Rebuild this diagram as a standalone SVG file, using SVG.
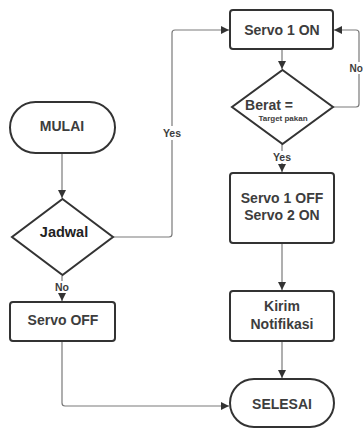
<svg xmlns="http://www.w3.org/2000/svg" width="363" height="432" viewBox="0 0 363 432">
<defs>
<style>
.box{fill:#fff;stroke:#333;stroke-width:2}
.t{font-family:"Liberation Sans",Arial,sans-serif;font-weight:bold;fill:#3d3d3d;text-anchor:middle}
.c{fill:none;stroke:#7a7a7a;stroke-width:1.2}
.lbl{font-family:"Liberation Sans",Arial,sans-serif;font-weight:bold;font-size:10.5px;fill:#3d3d3d;text-anchor:middle}
</style>
<marker id="ah" viewBox="0 0 10 10" refX="10" refY="5" markerWidth="8" markerHeight="8" markerUnits="userSpaceOnUse" orient="auto">
<path d="M0,0 L10,5 L0,10 z" fill="#333"/>
</marker>
</defs>
<rect width="363" height="432" fill="#fff"/>
<g id="connectors">
<path class="c" d="M282,49 V69" marker-end="url(#ah)"/>
<path class="c" d="M333,107 H356 Q359,107 359,104 V33 Q359,30 356,30 H334" marker-end="url(#ah)"/>
<path class="c" d="M282,144 V172" marker-end="url(#ah)"/>
<path class="c" d="M282,243 V290" marker-end="url(#ah)"/>
<path class="c" d="M282,341 V378" marker-end="url(#ah)"/>
<path class="c" d="M62,153 V198" marker-end="url(#ah)"/>
<path class="c" d="M113,237 H169 Q172,237 172,234 V33 Q172,30 175,30 H229" marker-end="url(#ah)"/>
<path class="c" d="M62,276 V301" marker-end="url(#ah)"/>
<path class="c" d="M62,341 V403 Q62,406 65,406 H229" marker-end="url(#ah)"/>
<rect x="160" y="126" width="24" height="14" fill="#fff"/>
<text class="lbl" x="172" y="137">Yes</text>
<rect x="270" y="151" width="24" height="12" fill="#fff"/>
<text class="lbl" x="282" y="161">Yes</text>
<rect x="52" y="281" width="20" height="12" fill="#fff"/>
<text class="lbl" x="62" y="291">No</text>
<rect x="349" y="62" width="14" height="12" fill="#fff"/>
<text class="lbl" x="349.5" y="72" style="text-anchor:start;font-size:10px">No</text>
</g>
<g id="servo1on">
<rect class="box" x="230" y="10" width="103" height="39" rx="3"/>
<text class="t" x="282" y="35" font-size="14">Servo 1 ON</text>
</g>
<g id="berat">
<polygon class="box" points="282.5,70 333,107 282.5,144 232,107"/>
<text class="t" x="269" y="110" font-size="14">Berat =</text>
<text class="t" x="283" y="121" font-size="8">Target pakan</text>
</g>
<g id="servo1off">
<rect class="box" x="230" y="173" width="104" height="70" rx="3"/>
<text class="t" x="282" y="203" font-size="14">Servo 1 OFF</text>
<text class="t" x="282" y="220" font-size="14">Servo 2 ON</text>
</g>
<g id="kirim">
<rect class="box" x="230" y="291" width="104" height="50" rx="3"/>
<text class="t" x="282" y="311" font-size="14">Kirim</text>
<text class="t" x="282" y="329" font-size="14">Notifikasi</text>
</g>
<g id="selesai">
<rect class="box" x="230" y="379" width="104" height="48" rx="24"/>
<text class="t" x="282" y="409" font-size="14">SELESAI</text>
</g>
<g id="mulai">
<rect class="box" x="10" y="102" width="105" height="51" rx="25.5"/>
<text class="t" x="62" y="131" font-size="14">MULAI</text>
</g>
<g id="jadwal">
<polygon class="box" points="62.5,199 113,237 62.5,275 12,237"/>
<text class="t" x="64" y="237" font-size="14.5" style="fill:#222">Jadwal</text>
</g>
<g id="servooff">
<rect class="box" x="10" y="302" width="105" height="39" rx="3"/>
<text class="t" x="63" y="325" font-size="14">Servo OFF</text>
</g>
</svg>
